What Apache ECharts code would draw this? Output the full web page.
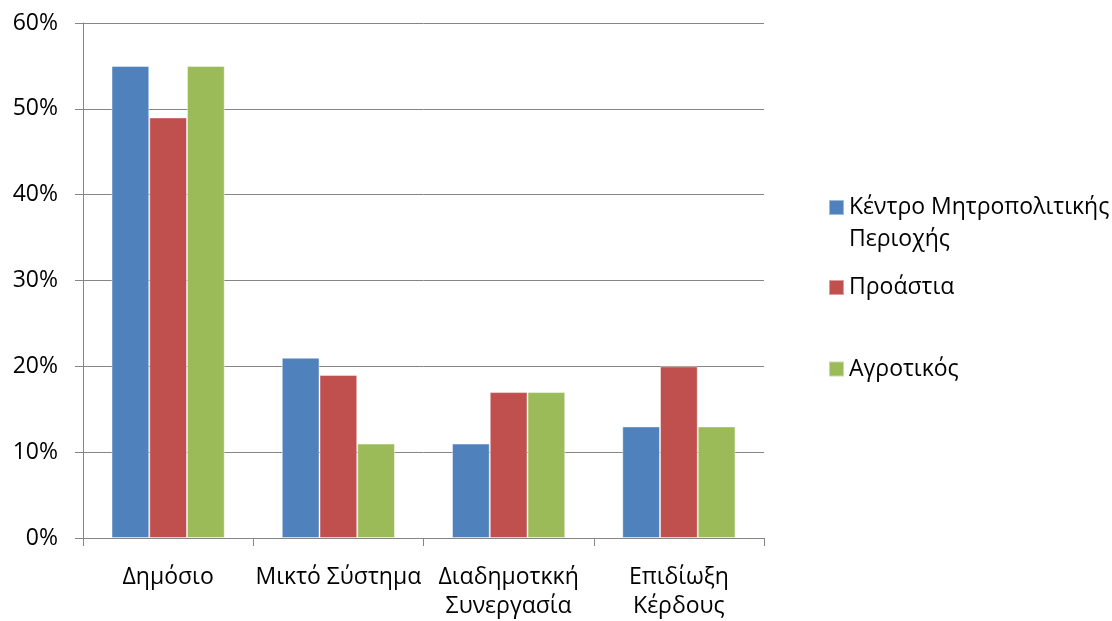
<!DOCTYPE html>
<html><head><meta charset="utf-8">
<script src="https://cdn.jsdelivr.net/npm/echarts@6/dist/echarts.min.js"></script>
<style>html,body{margin:0;padding:0;background:#fff}#c{width:1112px;height:621px}</style>
</head><body><div id="c"></div>
<script>
const categories = ['Δημόσιο', 'Μικτό Σύστημα', 'Διαδημοτκκή\nΣυνεργασία', 'Επιδίωξη\nΚέρδους'];
const seriesNames = ['Κέντρο Μητροπολιτικής Περιοχής', 'Προάστια', 'Αγροτικός'];
const kentro = [0.55, 0.21, 0.11, 0.13];
const proastia = [0.49, 0.19, 0.17, 0.20];
const agrotikos = [0.55, 0.11, 0.17, 0.13];
const yTicks = [0, 0.1, 0.2, 0.3, 0.4, 0.5, 0.6];

const colors = ['#4F81BD', '#C0504D', '#9BBB59'];
const FONT = 'Open Sans';
const FS = 23;
const chart = echarts.init(document.getElementById('c'));
const values = [kentro, proastia, agrotikos];
const LH = 32;
const legendCenters = [207.5, 287.5, 369];
chart.setOption({
  animation: false,
  textStyle: { fontFamily: FONT },
  grid: { left: 83, right: 348, top: 23, bottom: 79, containLabel: false },
  legend: seriesNames.map((n, i) => ({
    data: [n],
    left: 828,
    top: i === 0 ? legendCenters[i] - 1.5 * LH : legendCenters[i] - LH / 2,
    padding: 0,
    orient: 'vertical',
    icon: 'rect',
    itemWidth: 15,
    itemHeight: 15,
    itemGap: 6,
    selectedMode: false,
    formatter: nm => nm === seriesNames[0] ? ' \nΚέντρο Μητροπολιτικής\nΠεριοχής' : nm,
    textStyle: { fontFamily: FONT, fontSize: FS, color: '#000', lineHeight: LH }
  })),
  xAxis: {
    type: 'category',
    data: categories,
    axisLine: { lineStyle: { color: '#868686', width: 1 } },
    axisTick: { show: true, length: 8, lineStyle: { color: '#868686' } },
    axisLabel: { color: '#000', fontSize: FS, fontFamily: FONT, margin: 25, lineHeight: 29, interval: 0 }
  },
  yAxis: {
    type: 'value',
    min: yTicks[0], max: yTicks[yTicks.length - 1], interval: 0.1,
    axisLine: { show: true, lineStyle: { color: '#868686', width: 1 } },
    axisTick: { show: true, length: 8, lineStyle: { color: '#868686' } },
    splitLine: { lineStyle: { color: '#868686', width: 1 } },
    axisLabel: { color: '#000', fontSize: FS, fontFamily: FONT, margin: 25,
      formatter: v => Math.round(v * 100) + '%' }
  },
  series: seriesNames.map((n, i) => ({
    name: n,
    type: 'bar',
    data: values[i],
    barGap: '0%',
    barCategoryGap: '33.5%',
    itemStyle: { color: colors[i], borderColor: 'rgba(255,255,255,0.45)', borderWidth: 1 }
  }))
});
</script></body></html>
